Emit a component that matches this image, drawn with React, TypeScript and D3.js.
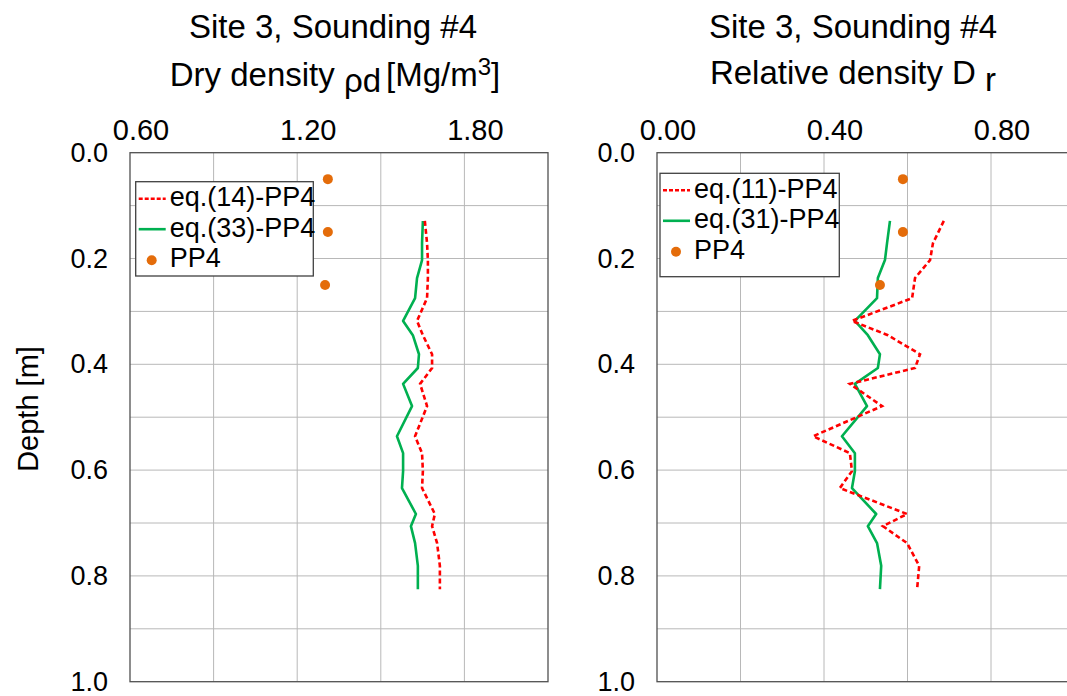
import React from "react";
import * as d3 from "d3";

const depths = [0.129, 0.171, 0.203, 0.237, 0.275, 0.318, 0.345, 0.381, 0.407, 0.437, 0.479, 0.536, 0.568, 0.602, 0.634, 0.683, 0.706, 0.738, 0.781, 0.825];
const dryEq14 = [1.658, 1.666, 1.669, 1.669, 1.666, 1.630, 1.651, 1.684, 1.684, 1.641, 1.666, 1.623, 1.648, 1.651, 1.648, 1.694, 1.684, 1.702, 1.712, 1.712];
const dryEq33 = [1.651, 1.648, 1.648, 1.630, 1.623, 1.580, 1.615, 1.637, 1.633, 1.580, 1.612, 1.558, 1.580, 1.580, 1.576, 1.626, 1.608, 1.623, 1.633, 1.633];
const relEq11 = [0.687, 0.661, 0.654, 0.618, 0.611, 0.467, 0.553, 0.630, 0.618, 0.462, 0.539, 0.374, 0.462, 0.467, 0.438, 0.599, 0.541, 0.599, 0.628, 0.623];
const relEq31 = [0.558, 0.551, 0.546, 0.529, 0.527, 0.474, 0.505, 0.534, 0.529, 0.474, 0.503, 0.443, 0.474, 0.474, 0.467, 0.525, 0.505, 0.527, 0.537, 0.534];
const pp4Depths = [0.05, 0.15, 0.25];
const pp4Dry = [1.31, 1.31, 1.30];
const pp4Rel = [0.589, 0.589, 0.534];

const depthTicks = [0.0, 0.2, 0.4, 0.6, 0.8, 1.0];
const depthGrid = [0.1, 0.2, 0.3, 0.4, 0.5, 0.6, 0.7, 0.8, 0.9];
const dryTicks = [0.6, 1.2, 1.8];
const dryGrid = [0.9, 1.2, 1.5, 1.8];
const relTicks = [0.0, 0.4, 0.8];
const relGrid = [0.2, 0.4, 0.6, 0.8];

const FONT = "'Liberation Sans', Arial, sans-serif";
const RED = "#ff0000";
const GREEN = "#00b050";
const ORANGE = "#e46c0a";

type PanelProps = {
  x0: number;
  x1: number;
  domain: [number, number];
  ticks: number[];
  grid: number[];
  fmt: (v: number) => string;
  redVals: number[];
  greenVals: number[];
  dotVals: number[];
  legend: { x: number; w: number; y: number; h: number; labels: string[] };
};

function Panel(p: PanelProps) {
  const y = d3.scaleLinear().domain([0, 1]).range([152.7, 681.7]);
  const x = d3.scaleLinear().domain(p.domain).range([p.x0, p.x1]);
  const redLine = d3.line<number>().x((v) => x(v)).y((_, i) => y(depths[i]))(p.redVals) || "";
  const greenLine = d3.line<number>().x((v) => x(v)).y((_, i) => y(depths[i]))(p.greenVals) || "";
  const lg = p.legend;
  return (
    <g fontFamily={FONT}>
      <rect x={p.x0} y={y(0)} width={p.x1 - p.x0} height={y(1) - y(0)} fill="#fff" />
      {p.grid.map((g) => (
        <line key={"vg" + g} x1={x(g)} x2={x(g)} y1={y(0)} y2={y(1)} stroke="#b8b8b8" strokeWidth={1} />
      ))}
      {depthGrid.map((g) => (
        <line key={"hg" + g} x1={p.x0} x2={p.x1} y1={y(g)} y2={y(g)} stroke="#b8b8b8" strokeWidth={1} />
      ))}
      <rect x={p.x0} y={y(0)} width={p.x1 - p.x0} height={y(1) - y(0)} fill="none" stroke="#505050" strokeWidth={1.3} />
      {p.ticks.map((t) => (
        <text key={"xt" + t} x={x(t) + 11} y={140} fontSize={29} textAnchor="middle" fill="#000">
          {p.fmt(t)}
        </text>
      ))}
      {depthTicks.map((t) => (
        <text key={"yt" + t} x={p.x0 - 22} y={y(t)} fontSize={27} textAnchor="end" dominantBaseline="central" fill="#000">
          {t.toFixed(1)}
        </text>
      ))}
      <path d={greenLine} fill="none" stroke={GREEN} strokeWidth={2.6} strokeLinejoin="round" />
      <path d={redLine} fill="none" stroke={RED} strokeWidth={2.6} strokeDasharray="5,3" />
      {pp4Depths.map((dd, i) => (
        <circle key={"pp" + i} cx={x(p.dotVals[i])} cy={y(dd)} r={5} fill={ORANGE} />
      ))}
      <rect x={lg.x} y={lg.y} width={lg.w} height={lg.h} fill="#fff" stroke="#404040" strokeWidth={1.3} />
      <line x1={lg.x + 3} x2={lg.x + 30} y1={lg.y + 17} y2={lg.y + 17} stroke={RED} strokeWidth={2.6} strokeDasharray="4,2" />
      <line x1={lg.x + 3} x2={lg.x + 30} y1={lg.y + 47.5} y2={lg.y + 47.5} stroke={GREEN} strokeWidth={2.6} />
      <circle cx={lg.x + 16} cy={lg.y + 78.5} r={5} fill={ORANGE} />
      {lg.labels.map((l, i) => (
        <text key={l} x={lg.x + 34} y={lg.y + 24.5 + i * 30.5} fontSize={27} fill="#000">
          {l}
        </text>
      ))}
    </g>
  );
}

export default function App() {
  return (
    <svg width={1067} height={696} style={{ position: "absolute", left: 0, top: 0, background: "#fff" }}>
      <rect x={0} y={0} width={1067} height={696} fill="#fff" />
      <Panel
        x0={130}
        x1={548}
        domain={[0.6, 2.1]}
        ticks={dryTicks}
        grid={dryGrid}
        fmt={(v) => v.toFixed(2)}
        redVals={dryEq14}
        greenVals={dryEq33}
        dotVals={pp4Dry}
        legend={{ x: 135.7, w: 177.6, y: 181.7, h: 94.3, labels: ["eq.(14)-PP4", "eq.(33)-PP4", "PP4"] }}
      />
      <Panel
        x0={657}
        x1={1074.5}
        domain={[0, 1.0]}
        ticks={relTicks}
        grid={relGrid}
        fmt={(v) => v.toFixed(2)}
        redVals={relEq11}
        greenVals={relEq31}
        dotVals={pp4Rel}
        legend={{ x: 660, w: 179.3, y: 173.3, h: 103.4, labels: ["eq.(11)-PP4", "eq.(31)-PP4", "PP4"] }}
      />
      <g fontFamily={FONT} fill="#000">
        <text x={333} y={38} fontSize={33} textAnchor="middle">Site 3, Sounding #4</text>
        <text x={335} y={86} fontSize={33} textAnchor="middle">
          <tspan>Dry density </tspan>
          <tspan dy={6}>ρd</tspan>
          <tspan dy={-6} dx={5}>[Mg/m</tspan>
          <tspan dy={-11} fontSize={24}>3</tspan>
          <tspan dy={11}>]</tspan>
        </text>
        <text x={853} y={38} fontSize={33} textAnchor="middle">Site 3, Sounding #4</text>
        <text x={853} y={84} fontSize={33} textAnchor="middle">
          <tspan>Relative density D </tspan>
          <tspan dy={7}>r</tspan>
        </text>
        <text transform="translate(38,409) rotate(-90)" fontSize={29} textAnchor="middle">Depth [m]</text>
      </g>
    </svg>
  );
}
